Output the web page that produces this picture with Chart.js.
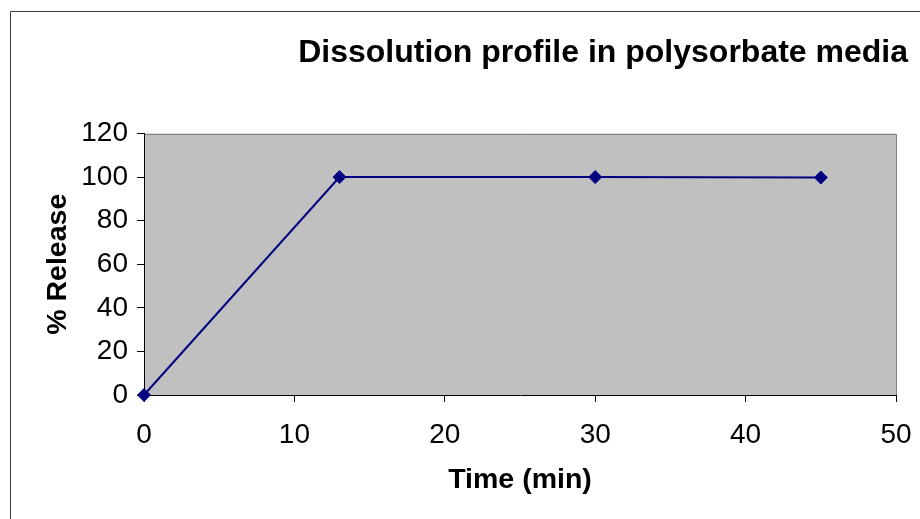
<!DOCTYPE html>
<html>
<head>
<meta charset="utf-8">
<script src="https://cdn.jsdelivr.net/npm/chart.js@4"></script>
<style>
  html, body { margin: 0; padding: 0; background: #fff; }
  #wrap { width: 920px; height: 519px; }
</style>
</head>
<body>
<div id="wrap"><canvas id="c" width="920" height="519"></canvas></div>
<script>
const timeMin = [0, 13, 30, 45];
const releasePct = [0, 100, 100, 99.8];
const xTicks = [0, 10, 20, 30, 40, 50];
const yTicks = [0, 20, 40, 60, 80, 100, 120];
const chartTitle = 'Dissolution profile in polysorbate media';
const xTitle = 'Time (min)';
const yTitle = '% Release';

const FONT = '"Liberation Sans", Arial, sans-serif';

const bgPlugin = {
  id: 'bgPlugin',
  beforeDraw(chart) {
    const ctx = chart.ctx;
    const a = chart.chartArea;
    ctx.save();
    ctx.fillStyle = '#ffffff';
    ctx.fillRect(0, 0, chart.width, chart.height);
    // outer frame (continues beyond canvas on right and bottom)
    ctx.strokeStyle = '#3a3a3a';
    ctx.lineWidth = 1;
    ctx.beginPath();
    ctx.moveTo(10.5, chart.height + 2);
    ctx.lineTo(10.5, 11.5);
    ctx.lineTo(chart.width + 2, 11.5);
    ctx.stroke();
    // plot area
    ctx.fillStyle = '#c0c0c0';
    ctx.fillRect(a.left, a.top, a.right - a.left, a.bottom - a.top);
    ctx.strokeStyle = '#808080';
    ctx.beginPath();
    ctx.moveTo(a.left, Math.round(a.top) + 0.5);
    ctx.lineTo(Math.round(a.right) + 0.5, Math.round(a.top) + 0.5);
    ctx.lineTo(Math.round(a.right) + 0.5, a.bottom);
    ctx.stroke();
    ctx.restore();
  }
};

new Chart(document.getElementById('c'), {
  type: 'line',
  data: {
    datasets: [{
      data: timeMin.map((t, i) => ({ x: t, y: releasePct[i] })),
      borderColor: '#000080',
      backgroundColor: '#000080',
      borderWidth: 2,
      pointStyle: 'rectRot',
      pointRadius: 6.5,
      pointBorderWidth: 1,
      pointBackgroundColor: '#000080',
      pointBorderColor: '#000080',
      tension: 0,
      fill: false,
      clip: false
    }]
  },
  options: {
    responsive: false,
    animation: false,
    devicePixelRatio: 1,
    layout: { padding: { left: 0, right: 12, top: 0, bottom: 0 } },
    plugins: {
      legend: { display: false },
      tooltip: { enabled: false },
      title: {
        display: true,
        text: chartTitle,
        align: 'end',
        color: '#000',
        font: { family: FONT, size: 32, weight: 'bold', lineHeight: 1.2 },
        padding: { top: 34, bottom: 61.1 }
      }
    },
    scales: {
      x: {
        type: 'linear',
        min: 0,
        max: 50,
        afterBuildTicks(s) { s.ticks = xTicks.map(v => ({ value: v })); },
        afterFit(s) { s.height = 124; s.paddingLeft = 0; s.paddingRight = 0; },
        ticks: {
          color: '#000',
          padding: 16,
          maxRotation: 0,
          font: { family: FONT, size: 28 }
        },
        grid: {
          drawOnChartArea: false,
          drawTicks: true,
          tickLength: 7,
          color: '#000'
        },
        border: { display: true, color: '#000', width: 1 },
        title: {
          display: true,
          text: xTitle,
          color: '#000',
          font: { family: FONT, size: 28.5, weight: 'bold', lineHeight: 1.2 },
          padding: { top: 0, bottom: 22 }
        }
      },
      y: {
        type: 'linear',
        position: 'left',
        min: 0,
        max: 120,
        afterBuildTicks(s) { s.ticks = yTicks.map(v => ({ value: v })); },
        afterFit(s) { s.width = 144; },
        ticks: {
          color: '#000',
          padding: 9,
          font: { family: FONT, size: 28 }
        },
        grid: {
          drawOnChartArea: false,
          drawTicks: true,
          tickLength: 7,
          color: '#000'
        },
        border: { display: true, color: '#000', width: 1 },
        title: {
          display: true,
          text: yTitle,
          color: '#000',
          font: { family: FONT, size: 28.5, weight: 'bold', lineHeight: 1.2 },
          padding: { top: 41, bottom: 0 }
        }
      },
      yRight: {
        type: 'linear',
        position: 'right',
        display: true,
        afterFit(s) { s.width = 12; s.paddingTop = 0; s.paddingBottom = 0; },
        ticks: { display: false },
        grid: { display: false },
        border: { display: false }
      }
    }
  },
  plugins: [bgPlugin]
});
</script>
</body>
</html>
